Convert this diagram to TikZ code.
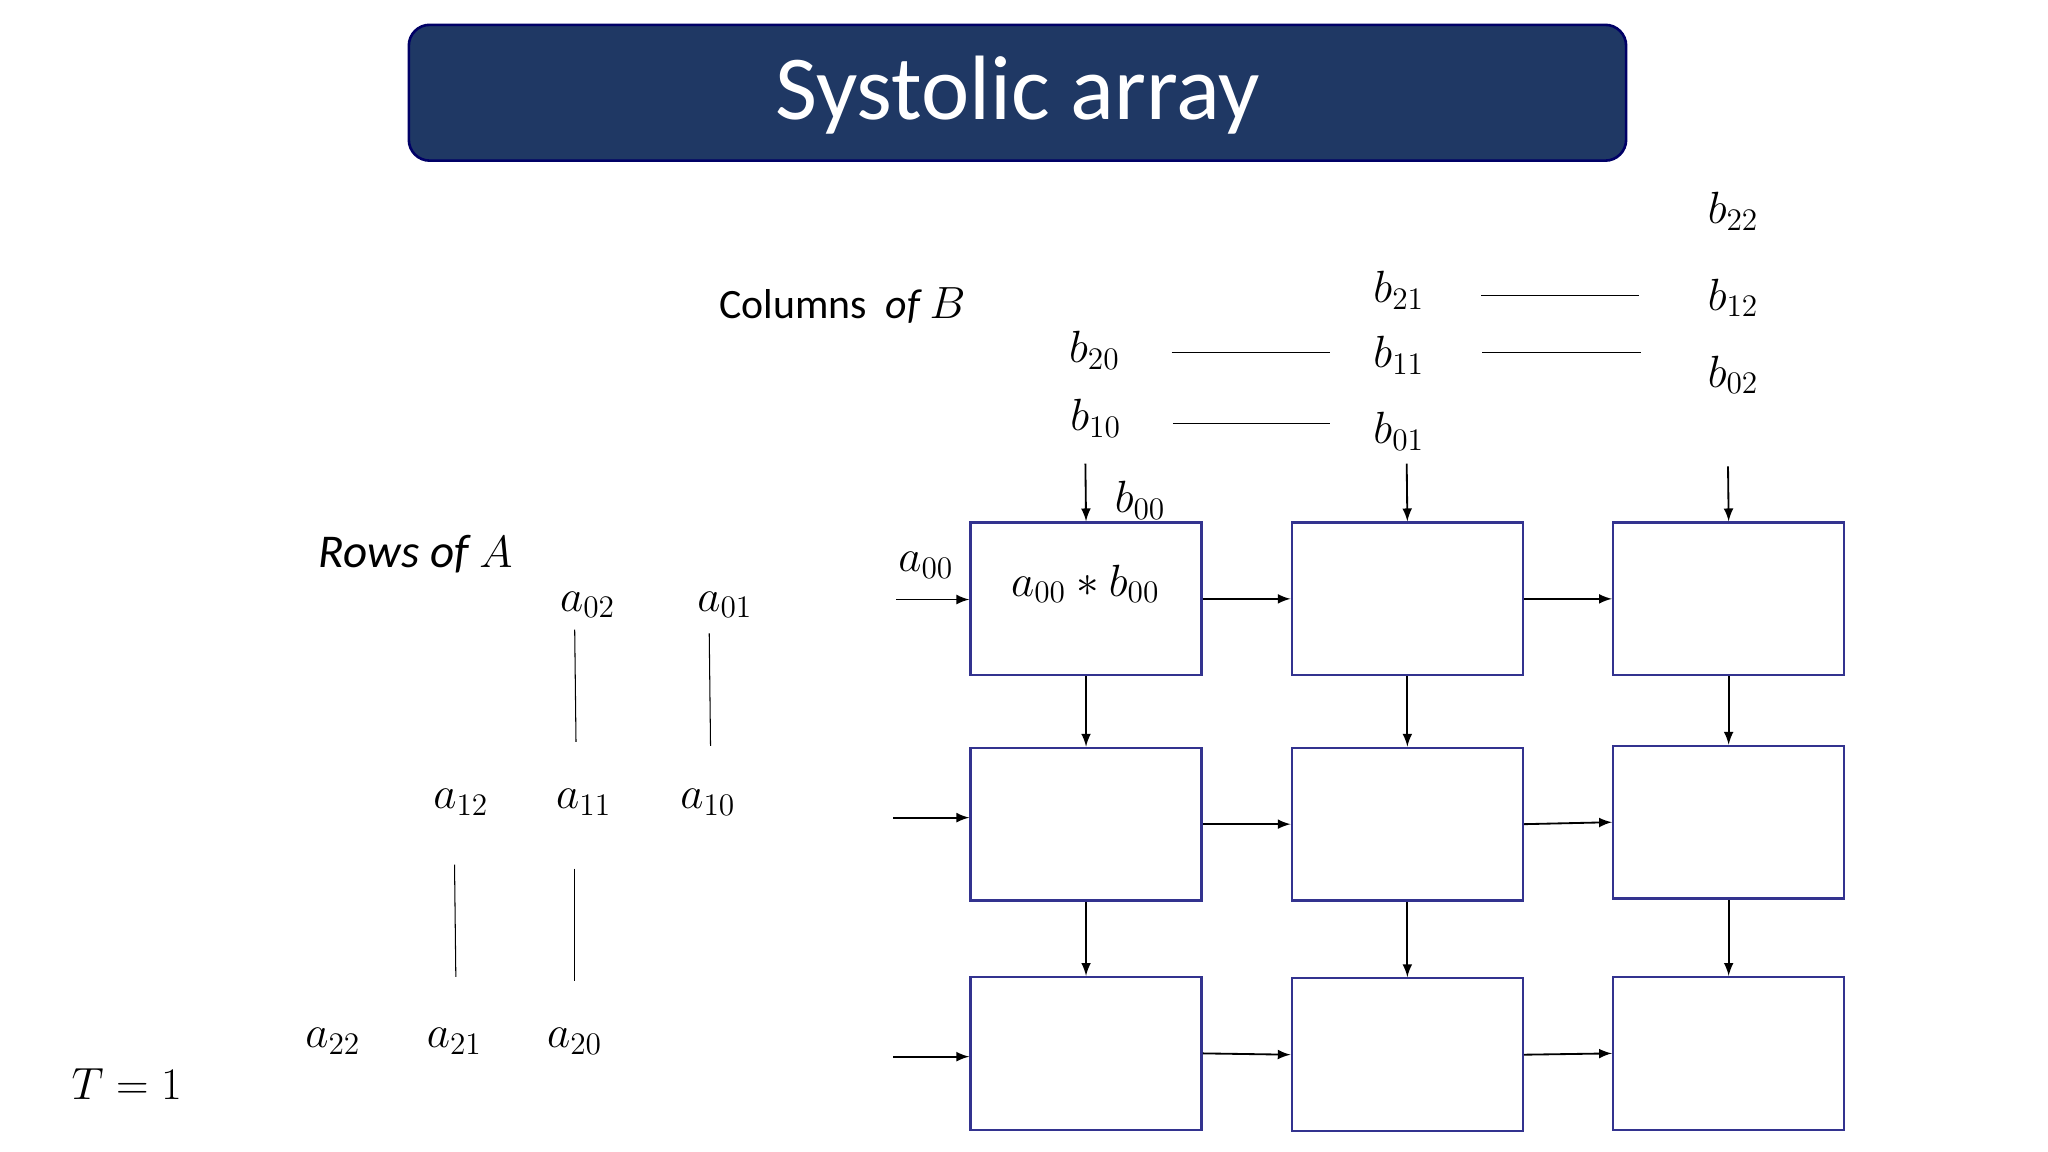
\documentclass[tikz,border=0pt]{standalone}
\usepackage{fontspec}
\setmainfont{Carlito}
\begin{document}
\begin{tikzpicture}[x=0.5pt,y=-0.5pt,
  pe/.style={draw=blue!45!black!80,line width=0.9pt,minimum width=88.5pt,minimum height=58.5pt,inner sep=0pt},
  arr/.style={-latex,line width=0.7pt},
  ln/.style={line width=0.4pt},
  lab/.style={font=\fontsize{18}{20}\selectfont,inner sep=0pt}]
\useasboundingbox (0,0) rectangle (1568,882);
\node[draw=blue!40!black,fill={rgb,255:red,31;green,56;blue,100},rounded corners=8pt,line width=1pt,minimum width=466pt,minimum height=52pt,inner sep=0pt] (title) at (779,71) {};
\node[text=white,font=\fontsize{35}{40}\selectfont] (tt) at (779,73) {Systolic array};
% PEs
\node[pe] (p11) at (831.5,458.5) {};
\node[pe] (p12) at (1077.5,458.5) {};
\node[pe] (p13) at (1323.5,458.5) {};
\node[pe] (p21) at (831.5,631) {};
\node[pe] (p22) at (1077.5,631) {};
\node[pe] (p23) at (1323.5,629.5) {};
\node[pe] (p31) at (831.5,806.5) {};
\node[pe] (p32) at (1077.5,807.5) {};
\node[pe] (p33) at (1323.5,806.5) {};
\node[lab] (prod) at (831,447) {$a_{00}*b_{00}$};
% inputs
\coordinate (i1) at (686,459); \coordinate (i2) at (684,626); \coordinate (i3) at (684,809);
\coordinate (t1) at (831,355); \coordinate (t2) at (1077,355); \coordinate (t3) at (1323,357);
\draw[arr] (i1) -- (p11.west|-i1);
\draw[arr] (i2) -- (p21.west|-i2);
\draw[arr] (i3) -- (p31.west|-i3);
\draw[arr] (t1) -- (p11.north);
\draw[arr] (t2) -- (p12.north);
\draw[arr] (t3) -- (p13.north);
\foreach \a/\b in {p11/p12,p12/p13,p21/p22,p22/p23,p31/p32,p32/p33}{\draw[arr] (\a.east) -- (\b.west);}
\foreach \a/\b in {p11/p21,p12/p22,p13/p23,p21/p31,p22/p32,p23/p33}{\draw[arr] (\a.south) -- (\b.north);}
% b labels
\node[lab] (b00) at (873,383) {$b_{00}$};
\node[lab] (a00) at (709,433) {$a_{00}$};
\node[lab] (b22) at (1327,162) {$b_{22}$};
\node[lab] (b21) at (1071,222) {$b_{21}$};
\node[lab] (b12) at (1327,228) {$b_{12}$};
\node[lab] (b20) at (838,268) {$b_{20}$};
\node[lab] (b11) at (1071,272) {$b_{11}$};
\node[lab] (b02) at (1327,287) {$b_{02}$};
\node[lab] (b10) at (839,320) {$b_{10}$};
\node[lab] (b01) at (1071,330) {$b_{01}$};
\draw[ln] (897,270) -- (1018,270);
\draw[ln] (898,324) -- (1018,324);
\draw[ln] (1134,226) -- (1255,226);
\draw[ln] (1135,270) -- (1256,270);
\node[font=\fontsize{16}{18}\selectfont,inner sep=0pt] (col) at (645,234) {Columns\ \ $\mathit{of}\ B$};
\node[lab] (rows) at (318,424) {$\mathit{Rows\ of}\ A$};
% a labels
\node[lab] (a02) at (450,463) {$a_{02}$};
\node[lab] (a01) at (555,463) {$a_{01}$};
\node[lab] (a12) at (353,614) {$a_{12}$};
\node[lab] (a11) at (447,614) {$a_{11}$};
\node[lab] (a10) at (542,614) {$a_{10}$};
\node[lab] (a22) at (255,797) {$a_{22}$};
\node[lab] (a21) at (348,797) {$a_{21}$};
\node[lab] (a20) at (440,797) {$a_{20}$};
\draw[ln] (440,482) -- (441,568);
\draw[ln] (543,485) -- (544,571);
\draw[ln] (348,662) -- (349,748);
\draw[ln] (440,665) -- (440,751);
\node[lab] (T) at (97,830) {$T=1$};
\end{tikzpicture}
\end{document}
